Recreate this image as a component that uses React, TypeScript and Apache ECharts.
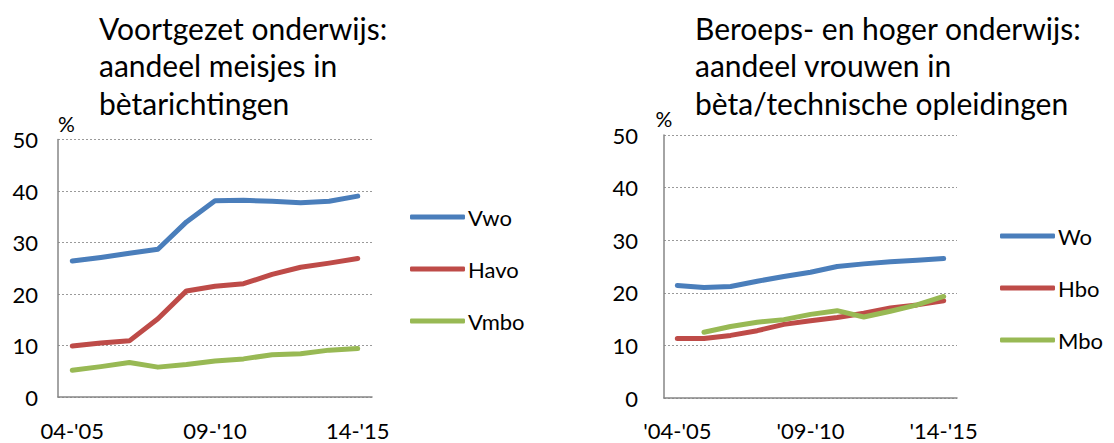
import React, { useEffect, useRef } from "react";
import * as echarts from "echarts";

const categories = ["04-'05", "05-'06", "06-'07", "07-'08", "08-'09", "09-'10", "10-'11", "11-'12", "12-'13", "13-'14", "14-'15"];
const categoriesRight = ["'04-'05", "'05-'06", "'06-'07", "'07-'08", "'08-'09", "'09-'10", "'10-'11", "'11-'12", "'12-'13", "'13-'14", "'14-'15"];

const vwo = [26.4, 27.1, 27.9, 28.7, 34.0, 38.1, 38.2, 38.0, 37.7, 38.0, 39.0];
const havo = [9.9, 10.5, 10.9, 15.2, 20.6, 21.5, 22.0, 23.8, 25.2, 26.0, 26.9];
const vmbo = [5.2, 5.9, 6.7, 5.8, 6.3, 7.0, 7.4, 8.2, 8.4, 9.1, 9.4];

const wo = [21.4, 21.0, 21.2, 22.2, 23.1, 23.9, 25.0, 25.5, 25.9, 26.2, 26.5];
const hbo = [11.3, 11.3, 11.9, 12.8, 14.0, 14.7, 15.3, 16.1, 17.1, 17.7, 18.5];
const mbo = [null, 12.5, 13.6, 14.4, 14.9, 15.9, 16.6, 15.4, 16.5, 17.7, 19.3];

const titleLeft = "Voortgezet onderwijs:\naandeel meisjes in\nbètarichtingen";
const titleRight = "Beroeps- en hoger onderwijs:\naandeel vrouwen in\nbèta/technische opleidingen";

const BLUE = "#4A7EBB";
const RED = "#BE4B48";
const GREEN = "#98B954";
const FONT = "Lato";

export default function App() {
  const ref = useRef<HTMLDivElement>(null);
  useEffect(() => {
    document.body.style.margin = "0";
    const chart = echarts.init(ref.current!, null, { renderer: "svg" });
    const axisLabel = { color: "#000", fontSize: 22, fontFamily: FONT };
    const mkX = (gi: number, cats: string[], margin: number) => ({
      type: "category",
      gridIndex: gi,
      data: cats,
      boundaryGap: true,
      axisLine: { lineStyle: { color: "#868686", width: 1.5 } },
      axisTick: { show: false },
      axisLabel: { ...axisLabel, interval: 4, margin, lineHeight: 22 },
    });
    const mkY = (gi: number, margin: number, nameAlign: string) => ({
      type: "value",
      gridIndex: gi,
      min: 0,
      max: 50,
      interval: 10,
      name: "%",
      nameLocation: "end",
      nameGap: 6,
      nameTextStyle: { color: "#000", fontSize: 21, fontFamily: FONT, align: nameAlign, verticalAlign: "bottom" },
      axisLine: { show: true, lineStyle: { color: "#868686", width: 1.5 } },
      axisTick: { show: false },
      axisLabel: { ...axisLabel, margin },
      splitLine: { lineStyle: { color: "#9a9a9a", type: [2, 2], width: 1.2 } },
    });
    const line = (name: string, data: (number | null)[], color: string, xi: number) => ({
      type: "line",
      name,
      data,
      xAxisIndex: xi,
      yAxisIndex: xi,
      showSymbol: false,
      symbol: "none",
      color,
      lineStyle: { color, width: 5, cap: "round", join: "round" },
      connectNulls: false,
    });
    const legendBase = {
      orient: "vertical",
      icon: "roundRect",
      itemWidth: 55,
      itemHeight: 5,
      itemGap: 28,
      padding: 0,
      textStyle: { color: "#000", fontSize: 22, fontFamily: FONT, lineHeight: 24, padding: [0, 0, 0, -2] },
      selectedMode: false,
    };
    const titleStyle = { fontSize: 30, fontWeight: "normal", fontFamily: FONT, color: "#000", lineHeight: 37.5 };
    chart.setOption({
      animation: false,
      title: [
        { text: titleLeft, left: 99, top: 9, padding: 0, textStyle: titleStyle },
        { text: titleRight, left: 695, top: 9, padding: 0, textStyle: titleStyle },
      ],
      legend: [
        { ...legendBase, data: ["Vwo", "Havo", "Vmbo"], left: 410, top: 205 },
        { ...legendBase, data: ["Wo", "Hbo", "Mbo"], left: 1000, top: 224 },
      ],
      grid: [
        { left: 58, top: 139.5, width: 314, height: 257.5 },
        { left: 664, top: 135, width: 293, height: 263 },
      ],
      xAxis: [mkX(0, categories, 22), mkX(1, categoriesRight, 21)],
      yAxis: [mkY(0, 20, "left"), mkY(1, 26, "center")],
      series: [
        line("Vwo", vwo, BLUE, 0),
        line("Havo", havo, RED, 0),
        line("Vmbo", vmbo, GREEN, 0),
        line("Wo", wo, BLUE, 1),
        line("Hbo", hbo, RED, 1),
        line("Mbo", mbo, GREEN, 1),
      ],
    });
    return () => chart.dispose();
  }, []);
  return <div ref={ref} style={{ width: 1114, height: 443 }} />;
}
